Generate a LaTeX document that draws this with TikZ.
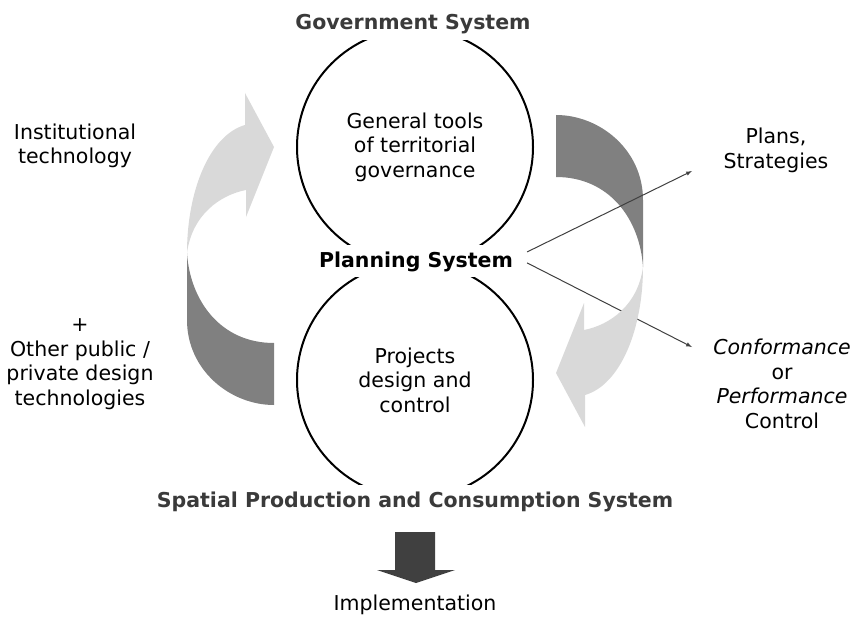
\documentclass[tikz,border=0pt]{standalone}
\usepackage{fontspec}
\setmainfont{DejaVu Sans}
\usepackage{tikz}
\usepackage{color}

\definecolor{bandlight}{RGB}{217,217,217}
\definecolor{banddark}{RGB}{128,128,128}
\definecolor{titlegray}{RGB}{58,58,58}
\definecolor{implgray}{RGB}{64,64,64}

\tikzset{
  txt/.style={align=center, anchor=base, font=\fontsize{20.5}{24.5}\selectfont},
  sysname/.style={txt, font=\fontsize{20.5}{24.5}\selectfont\bfseries, fill=white, inner xsep=2pt, inner ysep=6pt},
  ring/.style={circle, draw, line width=2pt, minimum size=236pt, align=center, font=\fontsize{20.5}{24.5}\selectfont},
  conn/.style={draw=black!75, line width=1pt, -latex}
}

\begin{document}
\begin{tikzpicture}[x=1pt, y=-1pt]
\useasboundingbox (0,0) rectangle (855,618);

\fill[banddark] (187,253) -- (187,320) .. controls (187,370) and (230,405) .. (274,405) -- (274,343) .. controls (220,343) and (190,300) .. (187,253) -- cycle;
\fill[banddark] (643,267) -- (643,200) .. controls (643,150) and (600,115) .. (556,115) -- (556,177) .. controls (610,177) and (640,220) .. (643,267) -- cycle;

\node[ring] (govring) at (415,147) {General tools\\of territorial\\governance};
\node[ring] (projring) at (415,380) {Projects\\design and\\control};

\node[sysname, text=titlegray] (gov) at (413,30) {Government System};
\node[sysname] (plan) at (416,267) {Planning System};
\node[sysname, text=titlegray] (spatial) at (415,507) {Spatial Production and Consumption System};

\node[txt] (inst) at (75,164) {Institutional\\technology};
\node[txt] (other) at (80,405) {+\\Other public /\\private design\\technologies};
\node[txt] (plans) at (776,168) {Plans,\\Strategies};
\node[txt] (perf) at (782,428) {\textit{Conformance}\\or\\\textit{Performance}\\Control};
\node[txt] (impl) at (415,610) {Implementation};

\coordinate (plantip) at (692,171);
\coordinate (perftip) at (692,347);
\draw[conn] ([xshift=12pt,yshift=9.5pt]plan.east) -- (plantip);
\draw[conn] ([xshift=12pt,yshift=-1.5pt]plan.east) -- (perftip);

\fill[bandlight] (187,253) .. controls (187,190) and (210,135) .. (245,125) -- (245,93) -- (274,147) -- (246,217) -- (246,190) .. controls (220,195) and (192,215) .. (187,253) -- cycle;
\fill[bandlight] (643,267) .. controls (643,330) and (620,385) .. (585,395) -- (585,427) -- (556,373) -- (584,303) -- (584,330) .. controls (610,325) and (638,305) .. (643,267) -- cycle;

\fill[implgray] (395,532) -- (435,532) -- (435,570) -- (455,570) -- (416,583) -- (377,570) -- (395,570) -- cycle;
\end{tikzpicture}
\end{document}
